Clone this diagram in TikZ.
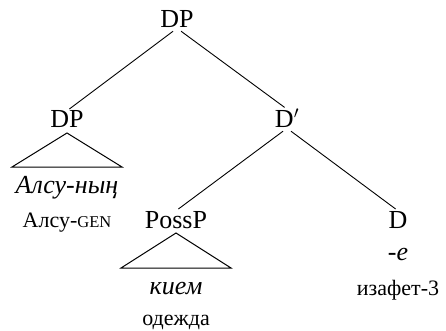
\documentclass[tikz,border=0pt]{standalone}
\usepackage{fontspec}
\setmainfont{Liberation Serif}
\newcommand{\gsc}[1]{{\fontsize{16.5}{18}\selectfont #1}}
\begin{document}
\begin{tikzpicture}[x=1pt,y=-1pt,
  lab/.style={font=\fontsize{26}{30}\selectfont, inner sep=0pt, anchor=base},
  word/.style={font=\fontsize{26}{30}\selectfont\itshape, inner sep=0pt, anchor=base},
  gloss/.style={font=\fontsize{22}{26}\selectfont, inner sep=0pt, anchor=base},
  edge/.style={line width=0.9pt, shorten <=5pt, shorten >=3pt},
  tri/.style={line width=1pt}]
\useasboundingbox (0,0) rectangle (446,331);
\node[lab] (dp) at (177,28) {DP};
\node[lab] (dpl) at (67,128) {DP};
\node[lab] (dbar) at (287,128) {D$'$};
\node[word] (alsu) at (67,193) {Алсу-ның};
\node[gloss] (alsug) at (67,227) {Алсу-\gsc{GEN}};
\node[lab] (possp) at (176,228) {PossP};
\node[lab] (d) at (398,228) {D};
\node[word] (kiem) at (176,294) {кием};
\node[gloss] (odezhda) at (176,325) {одежда};
\node[word] (e) at (398,260) {-е};
\node[gloss] (izafet) at (398,295) {изафет-3};
\draw[edge] (dp.south) -- (dpl.north);
\draw[edge] (dp.south) -- (dbar.north);
\draw[edge] (dbar.south) -- (possp.north);
\draw[edge] (dbar.south) -- (d.north);
\coordinate (t1l) at (12,167);
\coordinate (t1r) at (122,167);
\coordinate (t1a) at (67,133);
\draw[tri] (t1a) -- (t1l) -- (t1r) -- cycle;
\coordinate (t2l) at (121,268);
\coordinate (t2r) at (231,268);
\coordinate (t2a) at (176,233);
\draw[tri] (t2a) -- (t2l) -- (t2r) -- cycle;
\end{tikzpicture}
\end{document}
